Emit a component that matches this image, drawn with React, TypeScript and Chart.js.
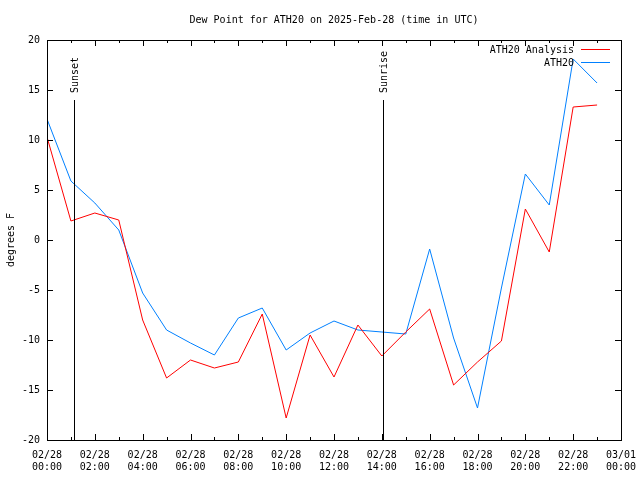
import React, { useEffect, useRef } from "react";
import { Chart, registerables } from "chart.js";

Chart.register(...registerables);

const hours = [0, 1, 2, 3, 4, 5, 6, 7, 8, 9, 10, 11, 12, 13, 14, 15, 16, 17, 18, 19, 20, 21, 22, 23];
const analysis = [10.3, 1.9, 2.7, 2.0, -8.0, -13.8, -12.0, -12.8, -12.2, -7.4, -17.8, -9.5, -13.7, -8.5, -11.6, -9.2, -6.9, -14.5, -12.2, -10.1, 3.1, -1.2, 13.3, 13.5];
const ath20 = [12.1, 5.9, 3.7, 1.0, -5.3, -9.0, -10.3, -11.5, -7.8, -6.8, -11.0, -9.3, -8.1, -9.0, -9.2, -9.4, -0.9, -9.8, -16.8, -4.8, 6.6, 3.5, 18.1, 15.7];
const seriesLabels = ["ATH20 Analysis", "ATH20"];
const seriesColors = ["#ff0000", "#0080ff"];
const eventLabels = ["Sunset", "Sunrise"];
const eventHours = [1.13, 14.05];
const titleText = "Dew Point for ATH20 on 2025-Feb-28 (time in UTC)";
const yTitle = "degrees F";

const FONT = "'DejaVu Sans Mono', monospace";

const decorPlugin = {
  id: "decor",
  afterDatasetsDraw(chart: any) {
    const ctx = chart.ctx;
    const { left, right, top, bottom } = chart.chartArea;
    const xs = chart.scales.x;
    const ys = chart.scales.y;
    ctx.save();
    ctx.strokeStyle = "#000";
    ctx.lineWidth = 1;
    // border
    ctx.strokeRect(Math.round(left) + 0.5, Math.round(top) + 0.5, Math.round(right - left), Math.round(bottom - top));
    // x ticks (hourly, major every 2h)
    ctx.beginPath();
    for (let h = 0; h <= 24; h++) {
      const px = Math.round(xs.getPixelForValue(h)) + 0.5;
      const len = h % 2 === 0 ? 6 : 3;
      ctx.moveTo(px, bottom);
      ctx.lineTo(px, bottom - len);
      ctx.moveTo(px, top);
      ctx.lineTo(px, top + len);
    }
    // y ticks
    for (const t of ys.ticks) {
      const py = Math.round(ys.getPixelForValue(t.value)) + 0.5;
      ctx.moveTo(left, py);
      ctx.lineTo(left + 6, py);
      ctx.moveTo(right, py);
      ctx.lineTo(right - 6, py);
    }
    ctx.stroke();
    // sunset / sunrise
    ctx.font = "10px " + FONT;
    ctx.fillStyle = "#000";
    eventHours.forEach((h, i) => {
      const px = Math.round(xs.getPixelForValue(h)) + 0.5;
      ctx.beginPath();
      ctx.moveTo(px, top + 60);
      ctx.lineTo(px, bottom);
      ctx.stroke();
      ctx.save();
      ctx.translate(px + 1, top + 53);
      ctx.rotate(-Math.PI / 2);
      ctx.textAlign = "left";
      ctx.textBaseline = "middle";
      ctx.fillText(eventLabels[i], 0, 0);
      ctx.restore();
    });
    // legend
    chart.data.datasets.forEach((ds: any, i: number) => {
      const y = top + 10 + 13 * i;
      ctx.textAlign = "right";
      ctx.textBaseline = "middle";
      ctx.fillStyle = "#000";
      ctx.fillText(ds.label, right - 47, y);
      ctx.strokeStyle = ds.borderColor;
      ctx.beginPath();
      ctx.moveTo(right - 40, Math.round(y) - 0.5);
      ctx.lineTo(right - 11, Math.round(y) - 0.5);
      ctx.stroke();
    });
    ctx.restore();
  },
};

export default function App() {
  const ref = useRef<HTMLCanvasElement | null>(null);
  useEffect(() => {
    if (!ref.current) return;
    const series = [analysis, ath20];
    const chart = new Chart(ref.current, {
      type: "line",
      data: {
        datasets: series.map((vals, i) => ({
          label: seriesLabels[i],
          data: hours.map((h, j) => ({ x: h, y: vals[j] })),
          borderColor: seriesColors[i],
          backgroundColor: seriesColors[i],
          borderWidth: 1,
          pointRadius: 0,
          tension: 0,
          fill: false,
        })),
      },
      options: {
        animation: false,
        responsive: false,
        devicePixelRatio: 1,
        layout: { padding: { left: 0, right: 19, top: 0, bottom: 0 } },
        plugins: {
          legend: { display: false },
          tooltip: { enabled: false },
          title: {
            display: true,
            text: titleText,
            fullSize: false,
            color: "#000",
            font: { family: FONT, size: 10, weight: "normal", lineHeight: 1.2 },
            padding: { top: 14, bottom: 14 },
          },
        },
        scales: {
          x: {
            type: "linear",
            min: 0,
            max: 24,
            afterFit: (s: any) => {
              s.height = 40;
              s.paddingLeft = 0;
              s.paddingRight = 0;
            },
            grid: { display: false, drawTicks: false },
            border: { display: false },
            ticks: {
              stepSize: 2,
              autoSkip: false,
              maxRotation: 0,
              padding: 9,
              color: "#000",
              font: { family: FONT, size: 10, lineHeight: 1.2 },
              callback: (v: any) => {
                const n = Number(v);
                const day = n >= 24 ? "03/01" : "02/28";
                const hh = String(n % 24).padStart(2, "0");
                return [day, hh + ":00"];
              },
            },
          },
          y: {
            min: -20,
            max: 20,
            afterFit: (s: any) => {
              s.width = 47;
              s.paddingTop = 0;
              s.paddingBottom = 0;
            },
            grid: { display: false, drawTicks: false },
            border: { display: false },
            title: {
              display: true,
              text: yTitle,
              color: "#000",
              font: { family: FONT, size: 10, lineHeight: 1.2 },
              padding: { top: 5, bottom: 0 },
            },
            ticks: {
              stepSize: 5,
              padding: 7,
              color: "#000",
              font: { family: FONT, size: 10 },
            },
          },
        },
      },
      plugins: [decorPlugin],
    } as any);
    return () => chart.destroy();
  }, []);
  return (
    <div style={{ position: "fixed", left: 0, top: 0, width: 640, height: 480, background: "#fff" }}>
      <canvas ref={ref} width={640} height={480} style={{ width: 640, height: 480, display: "block" }} />
    </div>
  );
}
